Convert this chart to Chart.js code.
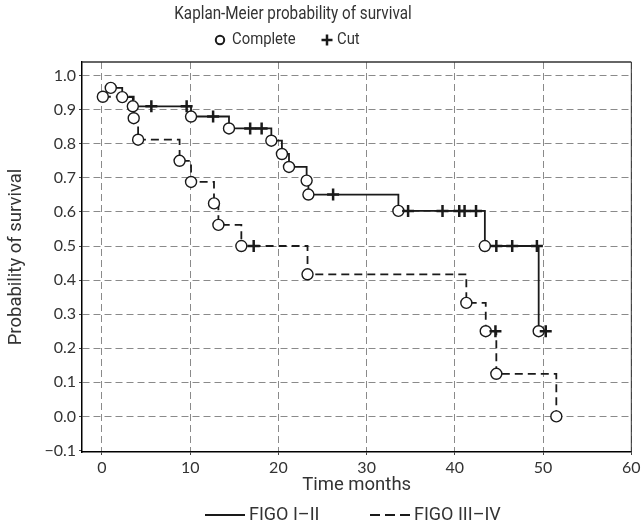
<!DOCTYPE html>
<html>
<head>
<meta charset="utf-8">
<script src="https://cdn.jsdelivr.net/npm/chart.js@4.4.1/dist/chart.umd.min.js"></script>
<style>
  html, body { margin: 0; padding: 0; background: #fff; }
  canvas { display: block; }
</style>
</head>
<body>
<canvas id="chart" width="644" height="530"></canvas>
<script>
// FIGO I-II: months, survival, status (1 = complete, 0 = cut)
const figo12Months   = [1.0, 2.3, 3.5, 5.6, 9.6, 10.1, 12.6, 14.4, 16.8, 18.1, 19.2, 20.4, 21.2, 23.2, 23.4, 26.2, 33.6, 34.7, 38.6, 40.5, 41.1, 42.4, 43.4, 44.7, 46.5, 49.3, 49.5, 50.3];
const figo12Survival = [0.964, 0.937, 0.910, 0.910, 0.910, 0.880, 0.880, 0.845, 0.845, 0.845, 0.809, 0.770, 0.732, 0.692, 0.651, 0.651, 0.603, 0.603, 0.603, 0.603, 0.603, 0.603, 0.500, 0.500, 0.500, 0.500, 0.250, 0.250];
const figo12Status   = [1, 1, 1, 0, 0, 1, 0, 1, 0, 0, 1, 1, 1, 1, 1, 0, 1, 0, 0, 0, 0, 0, 1, 0, 0, 0, 1, 0];

// FIGO III-IV
const figo34Months   = [0.1, 3.6, 4.1, 8.8, 10.1, 12.7, 13.2, 15.8, 17.2, 23.3, 41.3, 43.5, 44.6, 44.7, 51.5];
const figo34Survival = [0.938, 0.875, 0.812, 0.750, 0.688, 0.625, 0.562, 0.500, 0.500, 0.417, 0.333, 0.250, 0.250, 0.125, 0.000];
const figo34Status   = [1, 1, 1, 1, 1, 1, 1, 1, 0, 1, 1, 1, 0, 1, 1];

const monthTicks = [0, 10, 20, 30, 40, 50, 60];
const survivalTicks = [-0.1, 0, 0.1, 0.2, 0.3, 0.4, 0.5, 0.6, 0.7, 0.8, 0.9, 1.0];

const chartTitle = 'Kaplan-Meier probability of survival';
const markerLabels = ['Complete', 'Cut'];
const seriesLabels = ['FIGO I\u2013II', 'FIGO III\u2013IV'];

const FONT = 'Roboto';
const NUM_FONT = 'Lato';
const TEXT = '#333';
const INK = '#1a1a1a';

function toPoints(months, surv) {
    return months.map((m, i) => ({ x: m, y: surv[i] }));
}

function makeSeries(label, months, surv, status, dash) {
    return {
        label: label,
        data: toPoints(months, surv),
        stepped: 'before',
        borderColor: INK,
        borderWidth: 1.8,
        borderDash: dash,
        fill: false,
        pointStyle: c => status[c.dataIndex] ? 'circle' : 'cross',
        pointRadius: c => status[c.dataIndex] ? 5.5 : 6,
        pointBorderWidth: c => status[c.dataIndex] ? 1.4 : 2.5,
        pointBackgroundColor: c => status[c.dataIndex] ? '#fff' : INK,
        pointBorderColor: INK,
        pointHoverRadius: 0
    };
}

// the header font is narrower than the axis font, squeeze it a bit
function narrowText(ctx, text, x, y, size, squeeze, align) {
    ctx.save();
    ctx.font = size + 'px ' + FONT;
    ctx.textAlign = align;
    ctx.translate(x, y);
    ctx.scale(squeeze, 1);
    ctx.fillText(text, 0, 0);
    ctx.restore();
}

const keysPlugin = {
    id: 'keys',
    beforeDatasetsDraw(chart) {
        const ctx = chart.ctx;
        const a = chart.chartArea;
        ctx.save();
        ctx.strokeStyle = '#333';
        ctx.lineWidth = 1.5;
        ctx.beginPath();
        ctx.moveTo(a.left, a.top);
        ctx.lineTo(a.right, a.top);
        ctx.stroke();
        ctx.lineWidth = 1;
        ctx.beginPath();
        ctx.moveTo(a.right, a.top);
        ctx.lineTo(a.right, a.bottom);
        ctx.stroke();
        ctx.restore();
    },
    afterDraw(chart) {
        const ctx = chart.ctx;
        ctx.save();
        ctx.fillStyle = TEXT;
        ctx.textBaseline = 'middle';
        narrowText(ctx, chartTitle, 293, 15, 17.5, 0.87, 'center');

        // marker key
        ctx.strokeStyle = INK;
        ctx.fillStyle = '#fff';
        ctx.lineWidth = 2;
        Chart.helpers.drawPoint(ctx, { pointStyle: 'circle', radius: 4.2, borderWidth: 2 }, 220, 40);
        ctx.lineWidth = 2.5;
        Chart.helpers.drawPoint(ctx, { pointStyle: 'cross', radius: 5.5, borderWidth: 2.5 }, 327, 40);
        ctx.fillStyle = TEXT;
        narrowText(ctx, markerLabels[0], 232, 40, 16.5, 0.9, 'left');
        narrowText(ctx, markerLabels[1], 337, 40, 16.5, 0.9, 'left');

        // line key
        const y = chart.height - 15;
        ctx.strokeStyle = INK;
        ctx.lineWidth = 1.8;
        ctx.beginPath();
        ctx.moveTo(205, y);
        ctx.lineTo(245, y);
        ctx.stroke();
        ctx.setLineDash([10, 5]);
        ctx.beginPath();
        ctx.moveTo(370, y);
        ctx.lineTo(410, y);
        ctx.stroke();
        ctx.setLineDash([]);
        ctx.font = '18px ' + FONT;
        ctx.textAlign = 'left';
        ctx.fillText(seriesLabels[0], 249, y);
        ctx.fillText(seriesLabels[1], 414, y);
        ctx.restore();
    }
};

const ctx = document.getElementById('chart');
new Chart(ctx, {
    type: 'line',
    data: {
        datasets: [
            makeSeries(seriesLabels[0], figo12Months, figo12Survival, figo12Status, []),
            makeSeries(seriesLabels[1], figo34Months, figo34Survival, figo34Status, [8, 5])
        ]
    },
    options: {
        responsive: false,
        animation: false,
        events: [],
        layout: { padding: { top: 62, right: 12, bottom: 33.4, left: 0 } },
        plugins: {
            legend: { display: false },
            title: { display: false },
            tooltip: { enabled: false }
        },
        scales: {
            x: {
                type: 'linear',
                min: -2.26,
                max: 60,
                afterBuildTicks: s => { s.ticks = monthTicks.map(v => ({ value: v })); },
                afterFit: s => { s.height = 44.6; },
                ticks: { color: TEXT, font: { family: NUM_FONT, size: 16 }, padding: 3.4 },
                grid: {
                    color: '#8a8a8a',
                    lineWidth: 1,
                    tickLength: 3,
                    tickColor: '#444'
                },
                border: { color: '#000', width: 1.5, dash: [7, 4] },
                title: {
                    display: true,
                    text: 'Time months',
                    color: TEXT,
                    font: { family: FONT, size: 18.5 },
                    padding: { top: 0, bottom: 0 }
                }
            },
            y: {
                type: 'linear',
                min: -0.1045,
                max: 1.04,
                afterBuildTicks: s => { s.ticks = survivalTicks.map(v => ({ value: v })); },
                afterFit: s => { s.width = 82; },
                ticks: {
                    color: TEXT,
                    font: { family: NUM_FONT, size: 16 },
                    padding: 3,
                    callback: v => (v < 0 ? '\u2212' : '') + Math.abs(v).toFixed(1)
                },
                grid: {
                    color: c => (c.tick && c.tick.value < -0.05) ? 'rgba(0,0,0,0)' : '#8a8a8a',
                    lineWidth: 1,
                    tickLength: 3,
                    tickColor: '#444'
                },
                border: { color: '#000', width: 1.5, dash: [7, 4] },
                title: {
                    display: true,
                    text: 'Probability of survival',
                    color: TEXT,
                    font: { family: FONT, size: 18.5 },
                    padding: { top: 5, bottom: 0 }
                }
            }
        }
    },
    plugins: [keysPlugin]
});
</script>
</body>
</html>
